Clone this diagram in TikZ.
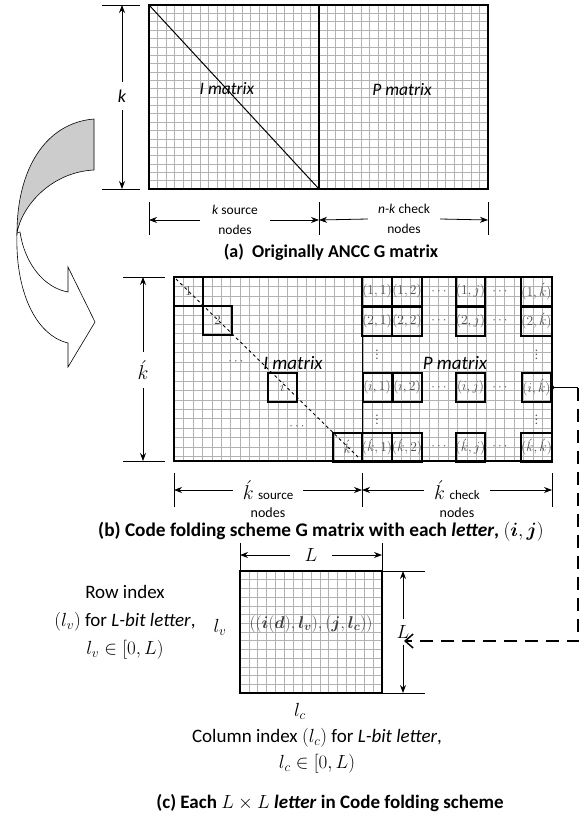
\RequirePackage{fix-cm}
\documentclass[tikz,border=0pt]{standalone}
\usepackage[no-math]{fontspec}
\setmainfont{Carlito}
\usepackage{amsmath}
\usepackage{bm}
\usetikzlibrary{arrows.meta,positioning}
\newcommand{\fs}[2]{\fontsize{#1}{#2}\selectfont}

\begin{document}
\begin{tikzpicture}[x=1pt,y=-1pt,
    gridline/.style={gray!60,line width=0.6pt},
    frame/.style={line width=1.6pt},
    letterbox/.style={draw,line width=2pt,minimum width=29pt,minimum height=29pt,inner sep=0pt,text=black!70,font=\fs{13.5}{13.5}},
    dimarrow/.style={line width=0.8pt,-{Stealth[length=8pt,width=6pt]}},
    extline/.style={line width=0.8pt},
    dots/.style={text=black!65,font=\fs{13}{13},inner sep=0pt}]
\useasboundingbox (0,0) rectangle (580,821);

% curved arrow
\draw[fill=gray!40,line width=0.6pt] (94,119) .. controls (45,123) and (17,170) .. (17,233)
  .. controls (22,205) and (52,172) .. (94,170) -- cycle;
\draw[fill=white,line width=0.6pt] (17,233) .. controls (15,290) and (35,335) .. (68,343)
  -- (68,367) -- (95,322) -- (68,267) -- (68,292) .. controls (45,288) and (25,265) .. (20,232) -- cycle;

% (a) originally ANCC G matrix
\foreach \i in {1,...,39} \draw[gridline] ({149+\i*8.475},5) -- ({149+\i*8.475},189);
\foreach \j in {1,...,21} \draw[gridline] (149,{5+\j*8.364}) -- (488,{5+\j*8.364});
\draw[frame] (149,5) rectangle (488,189);
\draw[frame] (319,5) -- (319,189);
\draw[line width=1pt] (149,5) -- (319,189);
\node[font=\itshape\fs{17.5}{17.5}] (imatA) at (227,89) {I matrix};
\node[font=\itshape\fs{17.5}{17.5}] (pmatA) at (402,90) {P matrix};
% k
\coordinate (kAtop) at (122,5);
\coordinate (kAbot) at (122,189);
\draw[extline] (102,5) -- (140,5);
\draw[extline] (102,189) -- (140,189);
\node[font=\itshape\fs{18}{18},inner sep=8pt] (kA) at (122,96) {k};
\draw[dimarrow] (kA) -- (kAtop);
\draw[dimarrow] (kA) -- (kAbot);
% source and check nodes
\coordinate (aL) at (149,220);
\coordinate (aM) at (319,220);
\coordinate (aR) at (488,220);
\draw[extline] (149,202) -- (149,235);
\draw[extline] (319,202) -- (319,235);
\draw[extline] (488,202) -- (488,235);
\node[align=center,font=\fs{13.5}{20},inner xsep=12pt] (srcA) at (235,220) {\textit{k} source\\nodes};
\node[align=center,font=\fs{13.5}{20},inner xsep=10pt] (chkA) at (404,219) {\textit{n-k} check\\nodes};
\draw[dimarrow] (srcA.west) -- (aL);
\draw[dimarrow] (srcA.east) -- (aM);
\draw[dimarrow] (chkA.west) -- (aM);
\draw[dimarrow] (chkA.east) -- (aR);
\node[font=\bfseries\fs{18}{18}] (capA) at (331,252) {(a)\ \ Originally ANCC G matrix};

% (b) code folding scheme G matrix
\foreach \i in {1,...,39} \draw[gridline] ({174+\i*9.45},277) -- ({174+\i*9.45},461);
\foreach \j in {1,...,19} \draw[gridline] (174,{277+\j*9.45}) -- (552,{277+\j*9.45});
\draw[frame] (174,277) rectangle (552,461);
\draw[line width=1pt] (362,277) -- (362,461);
\draw[line width=0.9pt,dash pattern=on 3pt off 3pt] (176,279) -- (358,457);
\node[font=\itshape\fs{19}{19}] (imatB) at (293,363) {I matrix};
\node[font=\itshape\fs{19}{19}] (pmatB) at (455,363) {P matrix};
% letters of the I matrix
\node[letterbox] (d1) at (188.5,291.5) {$1$};
\node[letterbox] (d2) at (217.5,320.5) {$2$};
\node[letterbox] (di) at (282.5,387.5) {$i$};
\node[letterbox] (dk) at (347.5,447) {$\acute{k}$};
\node[dots] (idots1) at (237,362) {$\cdots$};
\node[dots] (idots2) at (298,427) {$\cdots$};
% letters of the P matrix
\foreach \r/\y/\rl in {1/291.5/1,2/321/2,i/387.5/i,k/447/\acute{k}}
  \foreach \c/\x/\cl in {1/377/1,2/407/2,j/470.5/j,k/536.5/\acute{k}}
    \node[letterbox] (p\r\c) at (\x,\y) {$(\rl,\cl)$};
\foreach \y [count=\n] in {291.5,321,387.5,447} {
  \node[dots] (hdots\n a) at (440,\y) {$\cdots$};
  \node[dots] (hdots\n b) at (501,\y) {$\cdots$};
}
\node[dots] (vdots1a) at (377,352) {$\vdots$};
\node[dots] (vdots1b) at (377,417) {$\vdots$};
\node[dots] (vdots2a) at (536.5,352) {$\vdots$};
\node[dots] (vdots2b) at (536.5,417) {$\vdots$};
% k'
\coordinate (kBtop) at (143,277);
\coordinate (kBbot) at (143,461);
\draw[extline] (123,277) -- (165,277);
\draw[extline] (123,461) -- (165,461);
\node[font=\fs{20}{20},inner sep=8pt] (kB) at (143,370) {$\acute{k}$};
\draw[dimarrow] (kB) -- (kBtop);
\draw[dimarrow] (kB) -- (kBbot);
% source and check nodes
\coordinate (bL) at (174,490);
\coordinate (bM) at (362,490);
\coordinate (bR) at (552,490);
\draw[extline] (174,473) -- (174,507);
\draw[extline] (362,473) -- (362,507);
\draw[extline] (552,473) -- (552,507);
\node[inner xsep=10pt] (srcB) at (268,490) {\fs{20}{20}$\acute{k}$ \fs{13}{13}source};
\node[font=\fs{14}{14},below=1pt of srcB] (srcBn) {nodes};
\node[inner xsep=10pt] (chkB) at (457,490) {\fs{20}{20}$\acute{k}$ \fs{13}{13}check};
\node[font=\fs{14}{14},below=1pt of chkB] (chkBn) {nodes};
\draw[dimarrow] (srcB.west) -- (bL);
\draw[dimarrow] (srcB.east) -- (bM);
\draw[dimarrow] (chkB.west) -- (bM);
\draw[dimarrow] (chkB.east) -- (bR);
\node[font=\bfseries\fs{19.3}{19.3}] (capB) at (321,532) {(b) Code folding scheme G matrix with each \textit{letter}, $(\bm{i},\bm{j})$};
% link to the letter
\coordinate (turn) at (578,387.5);
\coordinate (Ltip) at (404,641);
\fill (pik.east) circle (2.2);
\draw[line width=1.5pt] (pik.east) -- (turn);
\draw[line width=1.5pt,dash pattern=on 13pt off 8pt,-{Straight Barb[length=8pt,width=14pt]}] (turn) |- (Ltip);

% (c) each L x L letter
\foreach \i in {1,...,15} \draw[gridline] ({240+\i*8.875},571) -- ({240+\i*8.875},693);
\foreach \j in {1,...,13} \draw[gridline] (240,{571+\j*8.714}) -- (382,{571+\j*8.714});
\draw[frame] (240,571) rectangle (382,693);
% L on top
\coordinate (cL) at (240,555);
\coordinate (cR) at (382,555);
\draw[extline] (240,543) -- (240,571);
\draw[extline] (382,543) -- (382,571);
\node[font=\fs{19}{19},inner xsep=14pt] (Ltop) at (311,555) {$L$};
\draw[dimarrow] (Ltop.west) -- (cL);
\draw[dimarrow] (Ltop.east) -- (cR);
% L on the right
\coordinate (cT) at (403,571);
\coordinate (cB) at (403,693);
\draw[extline] (382,571) -- (425,571);
\draw[extline] (382,693) -- (425,693);
\node[font=\fs{19}{19},inner ysep=6pt] (Lright) at (403,632) {$L$};
\draw[dimarrow] (Lright.north) -- (cT);
\draw[dimarrow] (Lright.south) -- (cB);
% indices
\node[font=\fs{19}{19}] (lv) at (220,627) {$l_v$};
\node[text=black!75,font=\fs{17}{17},inner sep=0pt] (formula) at (311,624) {$((\bm{i}(\bm{d}),\bm{l}_{\bm{v}}),(\bm{j},\bm{l}_{\bm{c}}))$};
\node[font=\fs{19}{19}] (lc) at (300,711) {$l_c$};
\node[align=center,font=\fs{19}{28}] (rowidx) at (125,622) {Row index\\$(l_v)$ for \textit{L-bit letter},\\$l_v\in[0,L)$};
\node[align=center,font=\fs{19}{26}] (colidx) at (317,751) {Column index $(l_c)$ for \textit{L-bit letter},\\$l_c\in[0,L)$};
\node[font=\bfseries\fs{19}{19}] (capC) at (330,803) {(c) Each $L\times L$ \textit{letter} in Code folding scheme};
\end{tikzpicture}
\end{document}
